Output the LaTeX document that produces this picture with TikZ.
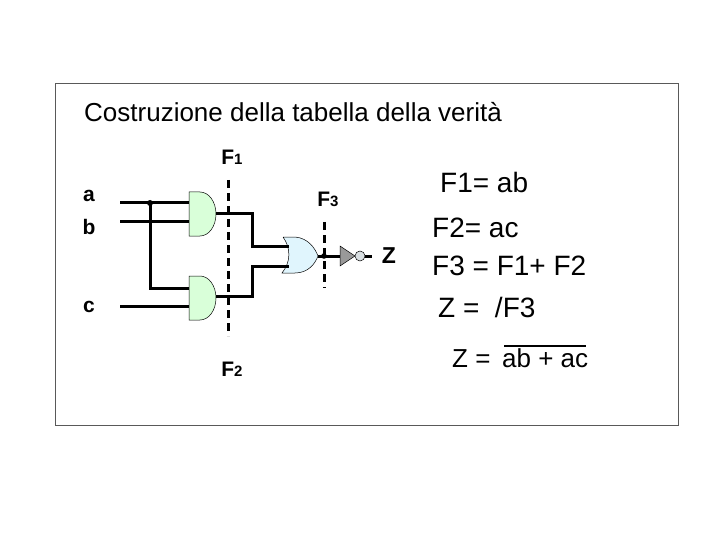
\documentclass[tikz,border=0pt]{standalone}
\usepackage{fontspec}
\setmainfont{Liberation Sans}
\begin{document}
\begin{tikzpicture}[x=1pt,y=-1pt,
  wire/.style={line width=3pt},
  cut/.style={line width=3pt,dash pattern=on 8pt off 5pt},
  lbl/.style={font=\fontsize{21}{21}\selectfont\bfseries,inner sep=0pt},
  txt/.style={font=\fontsize{28}{28}\selectfont,inner sep=0pt,anchor=west}]
\useasboundingbox (0,0) rectangle (720,540);
\draw[gray!70!black,line width=0.6pt] (55,83) rectangle (678,425);
\node[txt,font=\fontsize{26}{26}\selectfont] (title) at (84,112) {Costruzione della tabella della verità};
% labels
\node[lbl] (la) at (89,196) {a};
\node[lbl] (lb) at (89,227) {b};
\node[lbl] (lc) at (89,307) {c};
\node[lbl] (f1) at (232,157) {F{\fontsize{15}{15}\selectfont 1}};
\node[lbl] (f2) at (232,369) {F{\fontsize{15}{15}\selectfont 2}};
\node[lbl] (f3) at (328,199) {F{\fontsize{15}{15}\selectfont 3}};
\node[lbl,font=\fontsize{23}{23}\selectfont\bfseries] (lz) at (389,256) {Z};
% gates
\path[draw,fill=green!15,line width=0.5pt] (189,192) -- (200,192) arc[start angle=-90,end angle=90,x radius=16,y radius=22] -- (189,236) -- cycle;
\path[draw,fill=green!15,line width=0.5pt] (189,276) -- (200,276) arc[start angle=-90,end angle=90,x radius=16,y radius=22] -- (189,320) -- cycle;
\path[draw,fill=cyan!12,line width=0.5pt] (283,237) -- (295,237) .. controls (308,238) and (315,248) .. (318,256) .. controls (315,264) and (308,273) .. (295,273) -- (282,273) .. controls (291,262) and (291,248) .. (283,237);
% wires
\coordinate (ja) at (150,203);
\draw[wire] (120,203) -- (189,203);
\draw[wire] (120,222) -- (189,222);
\draw[wire] (120,306) -- (189,306);
\draw[wire] (ja) -- (150,288) -- (189,288);
\fill (ja) circle (3pt);
\draw[wire] (216,214) -- (252,214) -- (252,246) -- (289,246);
\draw[wire] (216,296) -- (252,296) -- (252,266) -- (289,266);
\draw[wire] (318,256) -- (340,256);
\fill (324,256) circle (2.8pt);
\path[draw,fill=gray!80,line width=0.5pt] (340,246) -- (355,256) -- (340,266) -- cycle;
\draw[fill=cyan!15!gray!30,line width=0.5pt] (360,256) circle (5);
\draw[wire] (365,256) -- (372,256);
% cuts
\draw[cut] (228,180) -- (228,336);
\draw[cut] (324,222) -- (324,288);
% equations
\node[txt] (e1) at (440,182) {F1= ab};
\node[txt] (e2) at (432,228) {F2= ac};
\node[txt] (e3) at (432,266) {F3 = F1+ F2};
\node[txt] (e4) at (438,307) {Z = \ /F3};
\node[txt,font=\fontsize{26}{26}\selectfont,anchor=base west] (e5) at (452,367) {Z =};
\node[txt,font=\fontsize{26}{26}\selectfont,anchor=base west] (e6) at (502,367) {ab + ac};
\draw[line width=2pt] ([shift={(2,-2)}]e6.north west) -- ([shift={(-2,-2)}]e6.north east);
\end{tikzpicture}
\end{document}
